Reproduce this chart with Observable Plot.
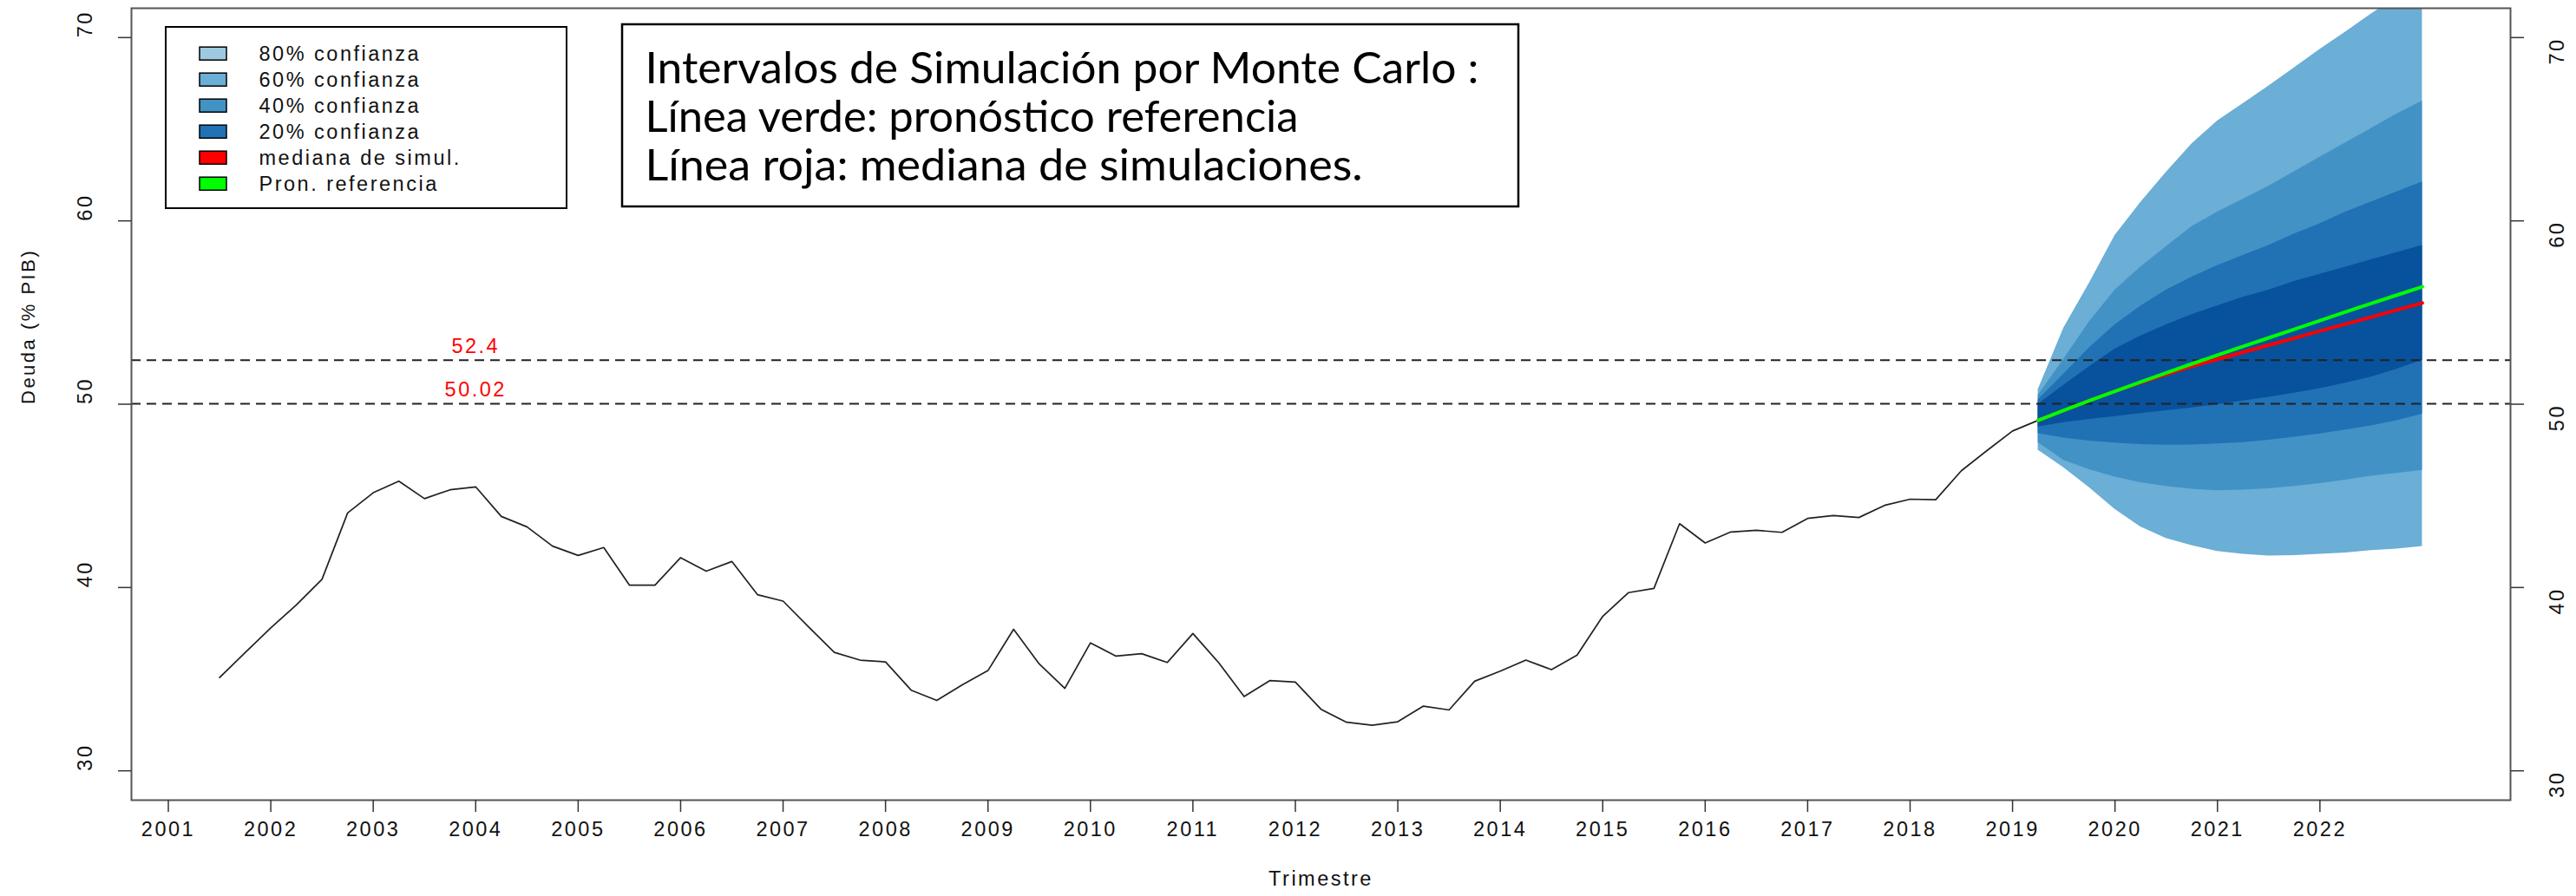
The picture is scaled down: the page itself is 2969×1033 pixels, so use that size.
<!DOCTYPE html>
<html><head><meta charset="utf-8">
<script src="https://cdn.jsdelivr.net/npm/d3@7"></script>
<script src="https://cdn.jsdelivr.net/npm/@observablehq/plot@0.6"></script>
<style>html,body{margin:0;padding:0;background:#fff;overflow:hidden}</style>
</head><body><div id="chart"></div>
<script>
// ---------- data ----------
const histStart = 2001.5; // first quarter (2001 Q3)
const histValues = [
  35.09, 36.45,
  37.80, 39.05, 40.45, 44.07,
  45.17, 45.80, 44.85, 45.33,
  45.49, 43.88, 43.31, 42.26,
  41.75, 42.18, 40.13, 40.13,
  41.63, 40.89, 41.42, 39.61,
  39.26, 37.85, 36.46, 36.04,
  35.94, 34.40, 33.84, 34.69,
  35.47, 37.72, 35.83, 34.50,
  36.98, 36.26, 36.39, 35.91,
  37.49, 35.91, 34.05, 34.92,
  34.84, 33.36, 32.65, 32.49,
  32.68, 33.53, 33.32, 34.89,
  35.44, 36.04, 35.52, 36.31,
  38.43, 39.72, 39.95, 43.48,
  42.43, 43.03, 43.12, 43.01,
  43.77, 43.93, 43.82, 44.48,
  44.82, 44.79, 46.37, 47.47,
  48.54, 49.12
];
const fanStart = 2019.25; // first forecast quarter
const outerHi = [50.79, 54.15, 56.60, 59.20, 61.00, 62.65, 64.20, 65.45, 66.40, 67.35, 68.35, 69.35, 70.30, 71.28, 72.20, 73.10];
const band2Hi = [50.47, 52.45, 54.49, 56.22, 57.48, 58.59, 59.69, 60.48, 61.18, 61.89, 62.68, 63.47, 64.26, 65.04, 65.83, 66.54];
const band3Hi = [50.24, 51.65, 53.07, 54.33, 55.35, 56.22, 56.93, 57.56, 58.11, 58.66, 59.29, 59.84, 60.48, 61.03, 61.58, 62.13];
const innerHi = [50.00, 51.03, 52.05, 53.00, 53.71, 54.33, 54.89, 55.36, 55.83, 56.22, 56.70, 57.09, 57.48, 57.88, 58.27, 58.66];
const innerLo = [48.76, 48.99, 49.17, 49.33, 49.49, 49.64, 49.80, 49.98, 50.18, 50.38, 50.60, 50.85, 51.15, 51.48, 51.90, 52.40];
const band3Lo = [48.40, 48.16, 47.99, 47.88, 47.80, 47.77, 47.78, 47.83, 47.91, 48.04, 48.20, 48.38, 48.59, 48.82, 49.10, 49.45];
const band2Lo = [47.91, 46.94, 46.43, 46.02, 45.72, 45.52, 45.36, 45.28, 45.31, 45.39, 45.52, 45.67, 45.86, 46.07, 46.23, 46.39];
const outerLo = [47.49, 46.54, 45.44, 44.26, 43.31, 42.68, 42.29, 41.97, 41.82, 41.72, 41.74, 41.82, 41.89, 42.01, 42.10, 42.24];
const refForecast = [49.12, 49.66, 50.19, 50.70, 51.21, 51.71, 52.20, 52.68, 53.15, 53.62, 54.09, 54.56, 55.03, 55.49, 55.95, 56.41];
const simMedian   = [49.12, 49.66, 50.19, 50.70, 51.18, 51.63, 52.07, 52.45, 52.84, 53.22, 53.60, 53.99, 54.37, 54.75, 55.14, 55.52];
const thresholds = [52.4, 50.02];
const thresholdLabels = ["52.4", "50.02"];
const thresholdLabelX = [2004, 2004];
const xTickYears = [2001,2002,2003,2004,2005,2006,2007,2008,2009,2010,2011,2012,2013,2014,2015,2016,2017,2018,2019,2020,2021,2022];
const yTicks = [30, 40, 50, 60, 70];
const legendLabels = ["80% confianza", "60% confianza", "40% confianza", "20% confianza", "mediana de simul.", "Pron. referencia"];
const legendColors = ["#9ECAE1", "#6BAED6", "#4292C6", "#2171B5", "#FF0000", "#00FF00"];
const titleLines = ["Intervalos de Simulación por Monte Carlo :", "Línea verde: pronóstico referencia", "Línea roja: mediana de simulaciones."];
const fanColors = ["#6BAED6", "#4292C6", "#2171B5", "#08519C"];

// ---------- tables ----------
const hist = histValues.map((v, i) => ({t: histStart + i / 4, v}));
const fan = outerHi.map((_, i) => ({
  t: fanStart + i / 4,
  lo1: outerLo[i], hi1: outerHi[i],
  lo2: band2Lo[i], hi2: band2Hi[i],
  lo3: band3Lo[i], hi3: band3Hi[i],
  lo4: innerLo[i], hi4: innerHi[i],
  ref: refForecast[i], med: simMedian[i]
}));
const thr = thresholds.map((y, i) => ({y, label: thresholdLabels[i], x: thresholdLabelX[i]}));

const chart = Plot.plot({
  width: 2969, height: 1033,
  marginLeft: 151, marginRight: 76, marginTop: 9, marginBottom: 111,
  x: {domain: [2000.64, 2023.86], axis: null},
  y: {domain: [28.4, 71.6], axis: null},
  style: {fontFamily: "'Liberation Sans', Arial, sans-serif", fontSize: "23.5px", background: "#fff", color: "#000"},
  marks: [
    Plot.areaY(fan, {x: "t", y1: "lo1", y2: "hi1", fill: fanColors[0], clip: true}),
    Plot.areaY(fan, {x: "t", y1: "lo2", y2: "hi2", fill: fanColors[1], clip: true}),
    Plot.areaY(fan, {x: "t", y1: "lo3", y2: "hi3", fill: fanColors[2], clip: true}),
    Plot.areaY(fan, {x: "t", y1: "lo4", y2: "hi4", fill: fanColors[3], clip: true}),
    Plot.line(hist, {x: "t", y: "v", stroke: "#222", strokeWidth: 1.7}),
    Plot.ruleY(thr, {y: "y", stroke: "#222", strokeWidth: 2, strokeDasharray: "11,7"}),
    Plot.text(thr, {x: "x", y: "y", text: "label", fill: "#FF0000", dy: -16, fontSize: 23.5}),
    Plot.line(fan, {x: "t", y: "med", stroke: "#FF0000", strokeWidth: 4}),
    Plot.line(fan, {x: "t", y: "ref", stroke: "#00FF00", strokeWidth: 4}),
    Plot.frame({stroke: "#555", strokeWidth: 2}),
    Plot.axisX({ticks: xTickYears, tickSize: 14, tickFormat: () => "", label: null, stroke: "#333", strokeWidth: 1.5}),
    Plot.text(xTickYears, {x: d => d, text: d => String(d), frameAnchor: "bottom", dy: 41, fill: "#111"}),
    Plot.axisY({anchor: "left", ticks: yTicks, tickSize: 15, tickFormat: () => "", label: null, stroke: "#333", strokeWidth: 1.5}),
    Plot.axisY({anchor: "right", ticks: yTicks, tickSize: 15, tickFormat: () => "", label: null, stroke: "#333", strokeWidth: 1.5}),
    Plot.text(yTicks, {y: d => d, text: d => String(d), frameAnchor: "left", dx: -53, rotate: -90, fill: "#111"}),
    Plot.text(yTicks, {y: d => d, text: d => String(d), frameAnchor: "right", dx: 54, rotate: -90, fill: "#111"}),
    Plot.text(["Trimestre"], {text: d => d, frameAnchor: "bottom", dy: 98, fill: "#111"}),
    Plot.text(["Deuda (% PIB)"], {text: d => d, frameAnchor: "left", dx: -119, rotate: -90, fill: "#111", fontSize: 22, ariaLabel: "ytitle"})
  ]
});
document.getElementById("chart").appendChild(chart);

const svg = d3.select(chart);
svg.style("letter-spacing", "2.5px");
svg.selectAll('g[aria-label="ytitle"] text').style("letter-spacing", "1.5px");

// ---------- legend box ----------
const lg = svg.append("g").attr("text-anchor", "start");
lg.append("rect").attr("x", 191).attr("y", 31).attr("width", 462).attr("height", 209)
  .attr("fill", "#fff").attr("stroke", "#000").attr("stroke-width", 2);
legendLabels.forEach((lab, i) => {
  const cy = 61.7 + i * 30;
  lg.append("rect").attr("x", 230).attr("y", cy - 7.5).attr("width", 31).attr("height", 15)
    .attr("fill", legendColors[i]).attr("stroke", "#000").attr("stroke-width", 1.5);
  lg.append("text").attr("x", 298.5).attr("y", cy).attr("dy", "0.35em")
    .attr("text-anchor", "start")
    .attr("fill", "#111").style("font-size", "23.5px").text(lab);
});

// ---------- title box ----------
const tg = svg.append("g").attr("text-anchor", "start");
tg.append("rect").attr("x", 717).attr("y", 28).attr("width", 1033).attr("height", 210)
  .attr("fill", "#fff").attr("stroke", "#000").attr("stroke-width", 2.5);
const titleWidths = [961, 753, 827];
titleLines.forEach((line, i) => {
  tg.append("text").attr("x", 743.5).attr("y", 96 + i * 56)
    .attr("text-anchor", "start")
    .attr("textLength", titleWidths[i]).attr("lengthAdjust", "spacingAndGlyphs")
    .style("font-family", "Lato, 'Open Sans', sans-serif").style("font-size", "50px")
    .style("letter-spacing", "0px").attr("fill", "#000").text(line);
});
</script>
</body></html>
